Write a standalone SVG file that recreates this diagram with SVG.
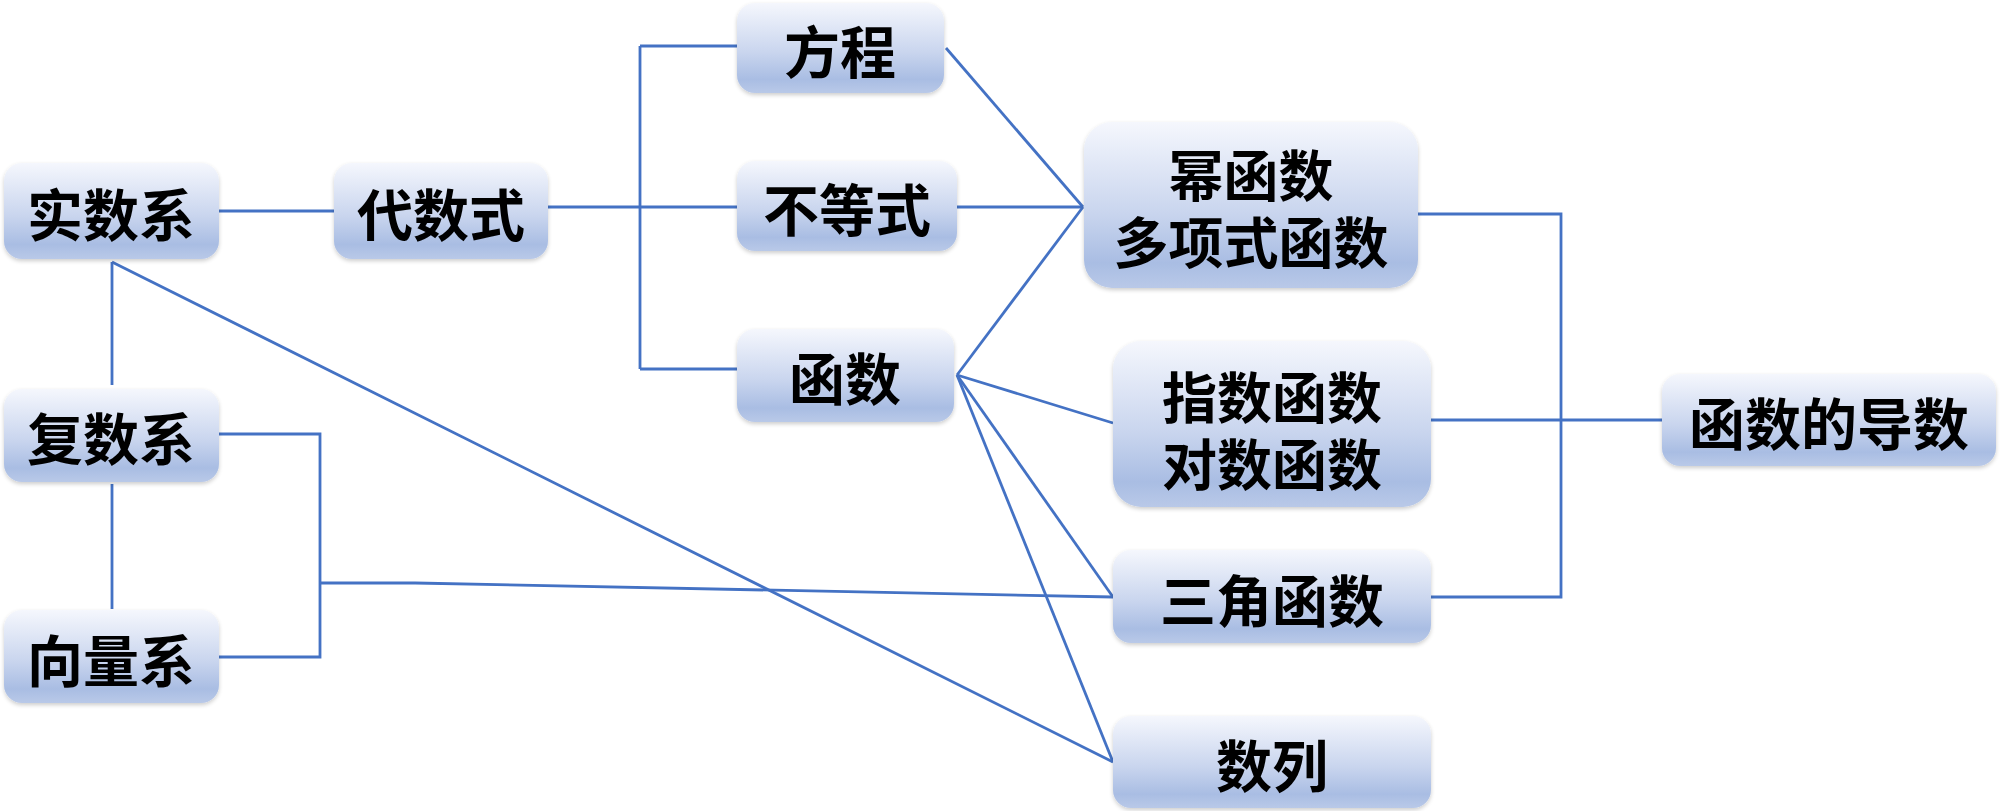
<svg xmlns="http://www.w3.org/2000/svg" width="2000" height="811" viewBox="0 0 2000 811">
<defs>
<linearGradient id="g" x1="0" y1="0" x2="0" y2="1">
<stop offset="0" stop-color="#f5f7fd"/>
<stop offset="0.55" stop-color="#c9d5ee"/>
<stop offset="0.85" stop-color="#a9bde3"/>
<stop offset="1" stop-color="#b9c9e8"/>
</linearGradient>
<filter id="sh" x="-10%" y="-10%" width="120%" height="130%">
<feGaussianBlur in="SourceAlpha" stdDeviation="2"/>
<feOffset dy="2"/>
<feComponentTransfer><feFuncA type="linear" slope="0.2"/></feComponentTransfer>
<feMerge><feMergeNode/><feMergeNode in="SourceGraphic"/></feMerge>
</filter>
</defs>
<style>
rect.n{fill:url(#g);filter:url(#sh)}
text{font-family:"Noto Sans CJK SC","Noto Sans",sans-serif;font-weight:bold;font-size:56px;fill:#000;text-anchor:middle;dominant-baseline:central}
text.t{font-size:55px}
.c path{fill:none;stroke:#4472c4;stroke-width:2.8}
</style>
<rect width="2000" height="811" fill="#fff"/>
<g class="c" id="connectors">
<path d="M219,211 H334"/>
<path d="M548,207 H640"/>
<path d="M640,46 V369"/>
<path d="M640,46 H737"/>
<path d="M640,207 H737"/>
<path d="M640,369 H737"/>
<path d="M946,48 L1083,207"/>
<path d="M957,207 H1083"/>
<path d="M957,375 L1083,207"/>
<path d="M957,375 L1113,423"/>
<path d="M957,375 L1113,597"/>
<path d="M957,375 L1113,762"/>
<path d="M1418,214 H1561 V597 H1431"/>
<path d="M1431,420 H1662"/>
<path d="M112,262 V385"/>
<path d="M112,484 V609"/>
<path d="M112,262 L1113,762"/>
<path d="M219,434 H320 V657 H219"/>
<path d="M320,583 H415 L1113,597"/>
</g>
<g id="n-shishu"><rect class="n" x="4" y="163" width="215" height="96" rx="18"/><text x="111" y="211">实数系</text></g>
<g id="n-daishu"><rect class="n" x="334" y="163" width="214" height="96" rx="18"/><text x="441" y="211">代数式</text></g>
<g id="n-fangcheng"><rect class="n" x="737" y="3" width="207" height="90" rx="18"/><text x="840" y="48">方程</text></g>
<g id="n-budengshi"><rect class="n" x="737" y="161" width="220" height="90" rx="18"/><text x="847" y="206">不等式</text></g>
<g id="n-hanshu"><rect class="n" x="737" y="329" width="217" height="93" rx="18"/><text x="845" y="375">函数</text></g>
<g id="n-mi"><rect class="n" x="1084" y="122" width="334" height="166" rx="28"/><text class="t"><tspan x="1251" y="172">幂函数</tspan><tspan x="1251" y="239">多项式函数</tspan></text></g>
<g id="n-zhishu"><rect class="n" x="1113" y="341" width="318" height="166" rx="28"/><text class="t"><tspan x="1272" y="394">指数函数</tspan><tspan x="1272" y="461">对数函数</tspan></text></g>
<g id="n-sanjiao"><rect class="n" x="1113" y="550" width="318" height="93" rx="18"/><text x="1272" y="597">三角函数</text></g>
<g id="n-shulie"><rect class="n" x="1113" y="716" width="318" height="92" rx="18"/><text x="1272" y="762">数列</text></g>
<g id="n-daoshu"><rect class="n" x="1662" y="374" width="334" height="92" rx="18"/><text x="1829" y="420">函数的导数</text></g>
<g id="n-fushu"><rect class="n" x="4" y="389" width="215" height="93" rx="18"/><text x="111" y="435">复数系</text></g>
<g id="n-xiangliang"><rect class="n" x="4" y="610" width="215" height="93" rx="18"/><text x="111" y="657">向量系</text></g>
</svg>
